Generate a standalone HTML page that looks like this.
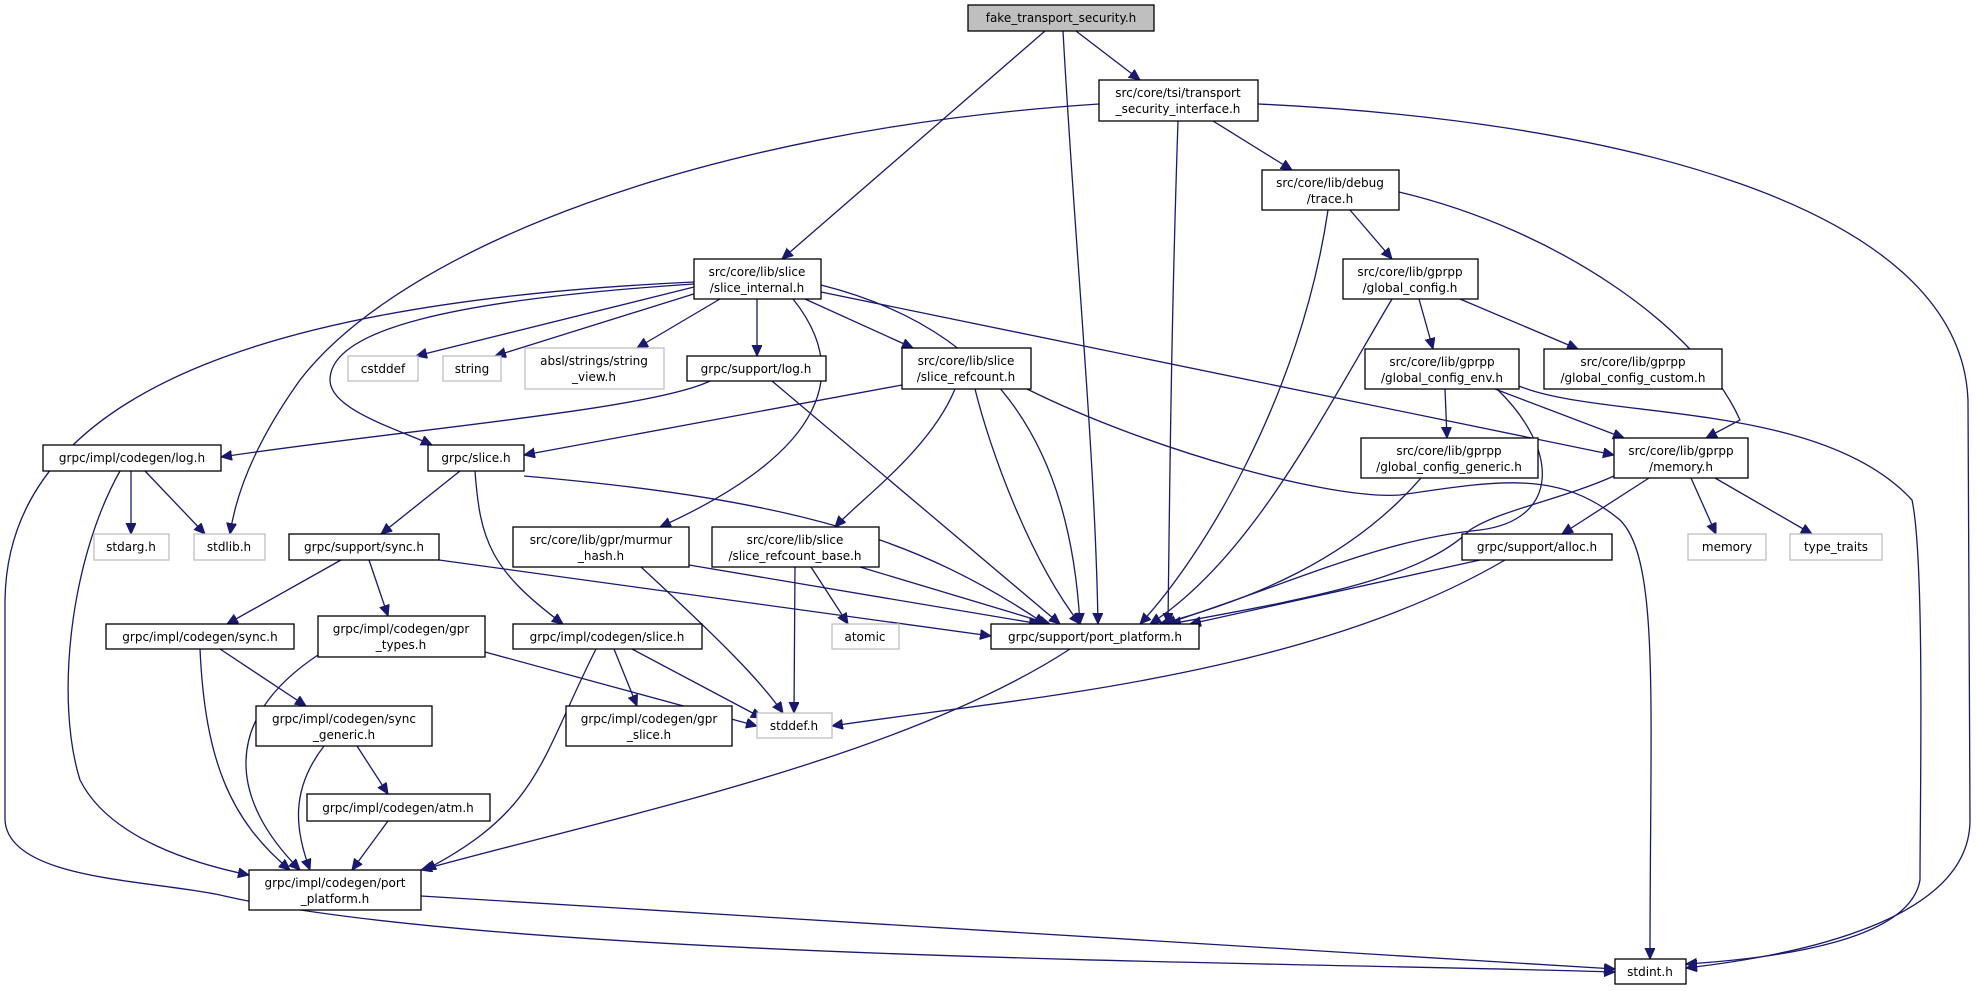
<!DOCTYPE html>
<html><head><meta charset="utf-8"><style>
html,body{margin:0;padding:0;background:#fff;}
svg{display:block;}
text{font-family:"DejaVu Sans","Liberation Sans",sans-serif;font-size:12px;fill:#000;text-anchor:middle;}
.n rect{fill:#fff;stroke:#000;stroke-width:1.3;}
.g rect{fill:#fff;stroke:#bfbfbf;stroke-width:1.3;}
.e{fill:none;stroke:#191970;stroke-width:1.3;}
</style></head><body>
<svg width="1976" height="991" viewBox="0 0 1976 991" xmlns="http://www.w3.org/2000/svg">
<defs><marker id="a" markerUnits="userSpaceOnUse" markerWidth="14" markerHeight="12" refX="11" refY="5" orient="auto"><path d="M0,0 L11,5 L0,10 z" fill="#191970" stroke="#191970"/></marker></defs>
<g marker-end="url(#a)">
<path class="e" d="M1076,31 L1140,80"/>
<path class="e" d="M1045,31 L782,259"/>
<path class="e" d="M1063,31 C1075,250 1095,450 1098,624"/>
<path class="e" d="M1099,104 C700,130 400,250 300,380 C250,450 235,500 230,534"/>
<path class="e" d="M1178,121 C1172,300 1170,450 1168,624"/>
<path class="e" d="M1213,121 L1292,170"/>
<path class="e" d="M1258,104 C1600,120 1960,200 1968,400 L1970,820 C1970,920 1800,955 1686,968"/>
<path class="e" d="M1350,210 L1392,259"/>
<path class="e" d="M1328,210 C1300,400 1200,560 1140,624"/>
<path class="e" d="M1399,192 C1560,230 1700,330 1740,420 L1706,438"/>
<path class="e" d="M1419,299 L1433,349"/>
<path class="e" d="M1460,299 L1578,349"/>
<path class="e" d="M1392,299 C1320,420 1250,560 1150,624"/>
<path class="e" d="M1445,389 L1447,438"/>
<path class="e" d="M1495,389 L1624,438"/>
<path class="e" d="M1497,389 C1560,450 1560,520 1480,530 C1380,540 1300,580 1165,624"/>
<path class="e" d="M1519,386 C1600,420 1820,400 1912,500 C1925,560 1920,800 1920,880 C1910,940 1780,958 1686,964"/>
<path class="e" d="M1421,478 C1350,560 1250,600 1160,624"/>
<path class="e" d="M1614,476 C1560,500 1500,510 1470,530 C1420,580 1300,600 1170,624"/>
<path class="e" d="M1649,478 L1562,534"/>
<path class="e" d="M1691,478 L1716,534"/>
<path class="e" d="M1715,478 L1812,534"/>
<path class="e" d="M1480,560 L1190,624"/>
<path class="e" d="M1505,560 C1300,680 1000,700 832,726"/>
<path class="e" d="M694,287 L416,356"/>
<path class="e" d="M700,292 L495,356"/>
<path class="e" d="M720,299 L637,348"/>
<path class="e" d="M757,299 L757,356"/>
<path class="e" d="M805,299 L913,348"/>
<path class="e" d="M694,284 C450,300 330,330 330,380 C330,410 400,430 432,445"/>
<path class="e" d="M793,299 C850,370 830,450 660,527"/>
<path class="e" d="M821,285 C1000,330 1070,450 1080,624"/>
<path class="e" d="M821,292 L1614,455"/>
<path class="e" d="M694,282 C300,300 8,380 5,600 L5,820 C8,880 150,880 220,895 C500,960 1300,962 1615,972"/>
<path class="e" d="M710,381 C650,410 400,430 221,457"/>
<path class="e" d="M772,381 L1060,624"/>
<path class="e" d="M902,385 L524,455"/>
<path class="e" d="M955,389 C930,450 860,500 835,527"/>
<path class="e" d="M975,389 C990,450 1030,560 1080,624"/>
<path class="e" d="M1027,389 C1150,450 1330,500 1400,495 C1500,480 1560,470 1620,520 C1660,560 1650,700 1650,959"/>
<path class="e" d="M131,471 L131,534"/>
<path class="e" d="M145,471 L205,534"/>
<path class="e" d="M120,471 C70,560 55,700 80,780 C110,840 200,865 249,875"/>
<path class="e" d="M460,471 L381,534"/>
<path class="e" d="M475,471 C480,540 490,570 563,624"/>
<path class="e" d="M524,476 C800,500 920,540 1045,624"/>
<path class="e" d="M341,560 L227,624"/>
<path class="e" d="M369,560 L388,616"/>
<path class="e" d="M439,560 L991,636"/>
<path class="e" d="M689,565 L1040,624"/>
<path class="e" d="M641,567 C720,640 760,680 783,713"/>
<path class="e" d="M795,567 L794,713"/>
<path class="e" d="M811,567 L848,624"/>
<path class="e" d="M860,567 L1050,624"/>
<path class="e" d="M220,649 L306,706"/>
<path class="e" d="M200,649 C205,760 230,820 290,870"/>
<path class="e" d="M485,652 L757,726"/>
<path class="e" d="M318,655 C220,720 230,800 300,870"/>
<path class="e" d="M614,649 L637,706"/>
<path class="e" d="M632,649 L762,718"/>
<path class="e" d="M596,649 C540,760 540,810 425,870"/>
<path class="e" d="M357,746 L388,794"/>
<path class="e" d="M324,746 C290,790 295,830 310,870"/>
<path class="e" d="M388,821 L352,870"/>
<path class="e" d="M1070,649 C900,760 600,820 421,870"/>
<path class="e" d="M421,896 L1615,969"/>
</g>
<g class="n"><rect x="968" y="5" width="186" height="26" style="fill:#bfbfbf"/><text x="1061" y="22">fake_transport_security.h</text></g>
<g class="n"><rect x="1099" y="80" width="159" height="41"/><text x="1178" y="97">src/core/tsi/transport</text><text x="1178" y="113">_security_interface.h</text></g>
<g class="n"><rect x="1262" y="170" width="137" height="40"/><text x="1330" y="187">src/core/lib/debug</text><text x="1330" y="203">/trace.h</text></g>
<g class="n"><rect x="694" y="259" width="127" height="40"/><text x="757" y="276">src/core/lib/slice</text><text x="757" y="292">/slice_internal.h</text></g>
<g class="n"><rect x="1343" y="259" width="135" height="40"/><text x="1410" y="276">src/core/lib/gprpp</text><text x="1410" y="292">/global_config.h</text></g>
<g class="g"><rect x="348" y="356" width="70" height="25"/><text x="383" y="373">cstddef</text></g>
<g class="g"><rect x="443" y="356" width="58" height="25"/><text x="472" y="373">string</text></g>
<g class="g"><rect x="525" y="348" width="139" height="41"/><text x="594" y="365">absl/strings/string</text><text x="594" y="381">_view.h</text></g>
<g class="n"><rect x="687" y="356" width="139" height="25"/><text x="756" y="373">grpc/support/log.h</text></g>
<g class="n"><rect x="902" y="348" width="129" height="41"/><text x="966" y="365">src/core/lib/slice</text><text x="966" y="381">/slice_refcount.h</text></g>
<g class="n"><rect x="1365" y="349" width="154" height="40"/><text x="1442" y="366">src/core/lib/gprpp</text><text x="1442" y="382">/global_config_env.h</text></g>
<g class="n"><rect x="1544" y="349" width="178" height="40"/><text x="1633" y="366">src/core/lib/gprpp</text><text x="1633" y="382">/global_config_custom.h</text></g>
<g class="n"><rect x="43" y="445" width="178" height="26"/><text x="132" y="462">grpc/impl/codegen/log.h</text></g>
<g class="n"><rect x="428" y="445" width="96" height="26"/><text x="476" y="462">grpc/slice.h</text></g>
<g class="n"><rect x="1361" y="438" width="177" height="40"/><text x="1449" y="455">src/core/lib/gprpp</text><text x="1449" y="471">/global_config_generic.h</text></g>
<g class="n"><rect x="1614" y="438" width="134" height="40"/><text x="1681" y="455">src/core/lib/gprpp</text><text x="1681" y="471">/memory.h</text></g>
<g class="g"><rect x="94" y="534" width="75" height="26"/><text x="131" y="551">stdarg.h</text></g>
<g class="g"><rect x="194" y="534" width="71" height="26"/><text x="229" y="551">stdlib.h</text></g>
<g class="n"><rect x="289" y="534" width="150" height="26"/><text x="364" y="551">grpc/support/sync.h</text></g>
<g class="n"><rect x="513" y="527" width="176" height="40"/><text x="601" y="544">src/core/lib/gpr/murmur</text><text x="601" y="560">_hash.h</text></g>
<g class="n"><rect x="712" y="527" width="167" height="40"/><text x="795" y="544">src/core/lib/slice</text><text x="795" y="560">/slice_refcount_base.h</text></g>
<g class="n"><rect x="1462" y="534" width="150" height="26"/><text x="1537" y="551">grpc/support/alloc.h</text></g>
<g class="g"><rect x="1688" y="534" width="78" height="26"/><text x="1727" y="551">memory</text></g>
<g class="g"><rect x="1790" y="534" width="92" height="26"/><text x="1836" y="551">type_traits</text></g>
<g class="n"><rect x="106" y="624" width="188" height="25"/><text x="200" y="641">grpc/impl/codegen/sync.h</text></g>
<g class="n"><rect x="318" y="616" width="167" height="41"/><text x="401" y="633">grpc/impl/codegen/gpr</text><text x="401" y="649">_types.h</text></g>
<g class="n"><rect x="513" y="624" width="189" height="25"/><text x="607" y="641">grpc/impl/codegen/slice.h</text></g>
<g class="g"><rect x="832" y="624" width="67" height="25"/><text x="865" y="641">atomic</text></g>
<g class="n"><rect x="991" y="624" width="208" height="25"/><text x="1095" y="641">grpc/support/port_platform.h</text></g>
<g class="n"><rect x="256" y="706" width="176" height="40"/><text x="344" y="723">grpc/impl/codegen/sync</text><text x="344" y="739">_generic.h</text></g>
<g class="n"><rect x="566" y="706" width="166" height="40"/><text x="649" y="723">grpc/impl/codegen/gpr</text><text x="649" y="739">_slice.h</text></g>
<g class="g"><rect x="757" y="713" width="75" height="25"/><text x="794" y="730">stddef.h</text></g>
<g class="n"><rect x="307" y="794" width="183" height="27"/><text x="398" y="812">grpc/impl/codegen/atm.h</text></g>
<g class="n"><rect x="249" y="870" width="172" height="40"/><text x="335" y="887">grpc/impl/codegen/port</text><text x="335" y="903">_platform.h</text></g>
<g class="n"><rect x="1615" y="959" width="71" height="25"/><text x="1650" y="976">stdint.h</text></g>
</svg>
</body></html>
